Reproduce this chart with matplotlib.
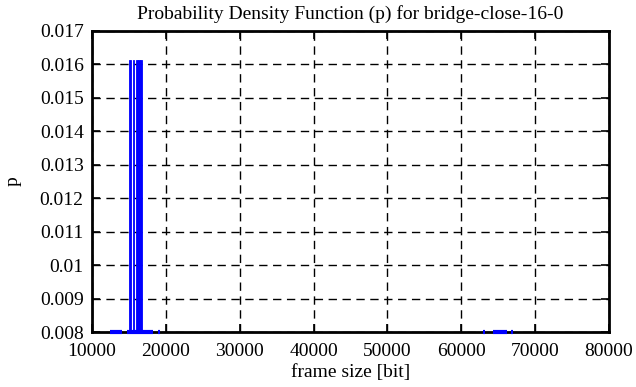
import matplotlib.pyplot as plt

# bin start (bit), bin width 250 bit
bin_width = 250
left_bins = [12500, 12750, 13000, 13250, 13500, 13750, 14750, 15000, 15250, 15500,
             15750, 16000, 16250, 16500, 16750, 17000, 17250, 17500, 17750, 18000, 19000]
left_p = [0.0006, 0.0009, 0.0012, 0.0009, 0.0006, 0.0004, 0.0011, 0.01613, 0.0035, 0.01613,
          0.0042, 0.01613, 0.01613, 0.01613, 0.0030, 0.0018, 0.0012, 0.0009, 0.0006, 0.0004, 0.0003]
right_bins = [63000, 64250, 64500, 64750, 65000, 65250, 65500, 65750, 66000, 66750]
right_p = [0.0002, 0.0004, 0.0005, 0.0003, 0.0006, 0.0007, 0.0006, 0.0005, 0.0003, 0.0002]

bins = left_bins + right_bins
p = left_p + right_p

plt.rcParams['font.family'] = ['Liberation Serif', 'DejaVu Serif']
fig = plt.figure(figsize=(6.36, 3.87), dpi=100)
ax = fig.add_axes([0.1447, 0.142, 0.8128, 0.778])

ymin, ymax = 0.008, 0.017
ax.bar(bins, p, width=bin_width, align='edge', color='blue',
       edgecolor='blue', linewidth=0.6, zorder=3)
# bins lower than the y range still show as a line along the bottom border
ax.hlines([ymin] * len(bins), bins, [b + bin_width for b in bins],
          colors='blue', linewidth=3, clip_on=False, zorder=4)

ax.set_xlim(10000, 80000)
ax.set_ylim(ymin, ymax)
ax.set_xticks(range(10000, 80001, 10000))
ax.set_yticks([0.008 + 0.001 * i for i in range(10)])
ax.set_yticklabels(['0.008', '0.009', '0.01', '0.011', '0.012', '0.013',
                    '0.014', '0.015', '0.016', '0.017'])
ax.grid(True, color='black', linestyle=(0, (6, 4)), linewidth=1)
ax.set_axisbelow(True)
ax.tick_params(direction='in', top=True, right=True, length=6, width=1.2,
               labelsize=14, pad=6)
ax.tick_params(axis='x', pad=8)
for s in ax.spines.values():
    s.set_linewidth(2)

ax.set_xlabel('frame size [bit]', fontsize=14, labelpad=3)
ax.set_ylabel('p', fontsize=14, labelpad=13)
ax.set_title('Probability Density Function (p) for bridge-close-16-0', fontsize=14, pad=9)

fig.savefig('out.png', dpi=100)
